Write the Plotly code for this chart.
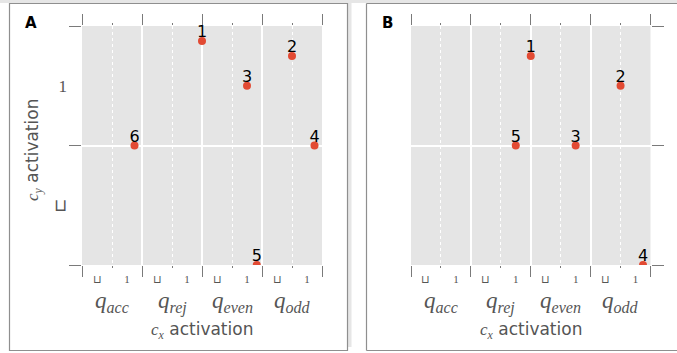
import plotly.graph_objects as go

W, H = 677, 353

# ---------------- data ----------------
categories = ["acc", "rej", "even", "odd"]          # q_acc, q_rej, q_even, q_odd
cx_tick_values = [-1, 1]
cx_tick_text = ["\u2294", "1"]
cy_tick_values = [-1, 1]
cy_tick_text = ["\u2294", "1"]

a_labels = ["1", "2", "3", "4", "5", "6"]
a_cat = [2, 3, 2, 3, 2, 0]
a_cx = [-2.0, 0.0, 1.0, 1.5, 1.65, 1.5]
a_cy = [1.75, 1.5, 1.0, 0.0, -2.0, 0.0]

b_labels = ["1", "2", "3", "4", "5"]
b_cat = [2, 3, 2, 3, 1]
b_cx = [-2.0, 0.0, 1.0, 1.5, 1.0]
b_cy = [1.5, 1.0, 0.0, -2.0, 0.0]

SPAN = 4.0  # width of one category block in cx units (cx in [-2, 2])
centers = [SPAN * i for i in range(len(categories))]
bounds = [SPAN * i - SPAN / 2 for i in range(len(categories) + 1)]
xr = [bounds[0], bounds[-1]]
yr = [-2, 2]


def px(x):
    return x / W


def py(y):
    return 1 - y / H


TICKC = "#7a7a7a"
LABC = "#555555"
SERIF = "Liberation Serif"
SANS = "DejaVu Sans"
RED = "#E24A33"

fig = go.Figure()


def add_points(cat, cx, cy, labels, xa, ya):
    xs = [SPAN * c + v for c, v in zip(cat, cx)]
    fig.add_trace(go.Scatter(
        x=xs, y=cy, mode="markers",
        marker=dict(color=RED, size=8),
        xaxis=xa, yaxis=ya, showlegend=False, hoverinfo="skip"))
    fig.add_trace(go.Scatter(
        x=xs, y=cy, text=labels, mode="text", textposition="top center",
        textfont=dict(family=SANS, size=16, color="black"), cliponaxis=False,
        xaxis=xa, yaxis=ya, showlegend=False, hoverinfo="skip"))


def empty(xa, ya):
    fig.add_trace(go.Scatter(x=[], y=[], xaxis=xa, yaxis=ya,
                             showlegend=False, hoverinfo="skip"))


add_points(a_cat, a_cx, a_cy, a_labels, "x", "y")
empty("x2", "y2")
empty("x3", "y2")
add_points(b_cat, b_cx, b_cy, b_labels, "x4", "y3")
empty("x5", "y4")
empty("x6", "y4")

ydom = [py(265), py(26)]
domA = [px(82), px(322)]
domB = [px(411), px(650.5)]

label_tv = [c + v for c in centers for v in cx_tick_values]
label_tt = [t for c in centers for t in cx_tick_text]

layout = dict(
    width=W, height=H, margin=dict(l=0, r=0, t=0, b=0),
    paper_bgcolor="white", plot_bgcolor="#E5E5E5",
    font=dict(family=SANS, color=LABC),
)


def main_x(dom, anchor):
    return dict(domain=dom, range=xr, anchor=anchor, tickmode="array",
                tickvals=label_tv, ticktext=label_tt, ticks="",
                tickfont=dict(family=SERIF, size=11, color=LABC),
                ticklabelstandoff=6,
                showgrid=False, zeroline=False, showline=False)


def bound_x(over, anchor):
    return dict(overlaying=over, range=xr, anchor=anchor, tickmode="array",
                tickvals=bounds, ticks="outside", ticklen=11, tickwidth=1.3,
                tickcolor=TICKC, mirror="ticks", showticklabels=False,
                showgrid=True, gridcolor="white", gridwidth=1.5,
                zeroline=False, showline=False)


def center_x(over, anchor):
    return dict(overlaying=over, range=xr, anchor=anchor, tickmode="array",
                tickvals=centers, ticks="outside", ticklen=2, tickwidth=1.3,
                tickcolor=TICKC, mirror="ticks", showticklabels=False,
                showgrid=True, gridcolor="white", gridwidth=1, griddash="dot",
                zeroline=False, showline=False)


layout["xaxis"] = main_x(domA, "y")
layout["xaxis2"] = bound_x("x", "y2")
layout["xaxis3"] = center_x("x", "y2")
layout["xaxis4"] = main_x(domB, "y3")
layout["xaxis5"] = bound_x("x4", "y4")
layout["xaxis6"] = center_x("x4", "y4")

layout["yaxis"] = dict(domain=ydom, range=yr, anchor="x", side="left",
                       tickmode="array", tickvals=cy_tick_values, ticktext=cy_tick_text,
                       ticks="", tickfont=dict(family=SERIF, size=17, color=LABC),
                       ticklabelstandoff=14,
                       showgrid=False, zeroline=False, showline=False)
layout["yaxis2"] = dict(overlaying="y", range=yr, anchor="x2", side="left",
                        tickmode="array", tickvals=[-2, 0, 2], ticks="outside",
                        ticklen=12, tickwidth=1.3, tickcolor=TICKC,
                        showticklabels=False, showgrid=True, gridcolor="white",
                        gridwidth=1.5, zeroline=False, showline=False)
layout["yaxis3"] = dict(domain=ydom, range=yr, anchor="x4", side="right",
                        showticklabels=False, ticks="", showgrid=False,
                        zeroline=False, showline=False)
layout["yaxis4"] = dict(overlaying="y3", range=yr, anchor="x5", side="right",
                        tickmode="array", tickvals=[-2, 0, 2], ticks="outside",
                        ticklen=12, tickwidth=1.3, tickcolor=TICKC,
                        showticklabels=False, showgrid=True, gridcolor="white",
                        gridwidth=1.5, zeroline=False, showline=False)

fig.update_layout(**layout)

# ---------------- frames and background strips ----------------
shapes = [
    dict(type="rect", xref="paper", yref="paper", x0=0, x1=1, y0=py(3), y1=1,
         fillcolor="#E6E6E6", line=dict(width=0), layer="below"),
    dict(type="rect", xref="paper", yref="paper", x0=px(347.5), x1=px(351.5),
         y0=py(347), y1=1, fillcolor="#E6E6E6", line=dict(width=0), layer="below"),
    dict(type="rect", xref="paper", yref="paper", x0=px(9.5), x1=px(347.5),
         y0=py(350.5), y1=py(3.5), line=dict(color="#8f8f8f", width=1.2), layer="below"),
    dict(type="line", xref="paper", yref="paper", x0=px(366.5), x1=px(366.5),
         y0=py(350.5), y1=py(3.5), line=dict(color="#8f8f8f", width=1.2), layer="below"),
    dict(type="line", xref="paper", yref="paper", x0=px(366.5), x1=1,
         y0=py(3.5), y1=py(3.5), line=dict(color="#8f8f8f", width=1.2), layer="below"),
    dict(type="line", xref="paper", yref="paper", x0=px(366.5), x1=1,
         y0=py(350.5), y1=py(350.5), line=dict(color="#8f8f8f", width=1.2), layer="below"),
]
fig.update_layout(shapes=shapes)

# ---------------- annotations ----------------
ann = []
for xa in ["x", "x4"]:
    for c, name in zip(centers, categories):
        ann.append(dict(x=c, xref=xa, y=py(302), yref="paper",
                        text="<i>q</i><sub><i>%s</i></sub>" % name, showarrow=False,
                        font=dict(family=SERIF, size=23, color=LABC),
                        xanchor="center", yanchor="middle"))
    ann.append(dict(x=sum(xr) / 2, xref=xa, y=py(330), yref="paper",
                    text='<span style="font-family:%s"><i>c</i><sub><i>x</i></sub></span> activation' % SERIF,
                    showarrow=False, font=dict(family=SANS, size=17, color=LABC),
                    xanchor="center", yanchor="middle"))
ann.append(dict(x=px(34), xref="paper", y=py(150), yref="paper", textangle=-90,
                text='<span style="font-family:%s"><i>c</i><sub><i>y</i></sub></span> activation' % SERIF,
                showarrow=False, font=dict(family=SANS, size=17, color=LABC),
                xanchor="center", yanchor="middle"))
ann.append(dict(x=px(31), xref="paper", y=py(23), yref="paper", text="<b>A</b>",
                showarrow=False, font=dict(family=SANS, size=15, color="black"),
                xanchor="center", yanchor="middle"))
ann.append(dict(x=px(387), xref="paper", y=py(23), yref="paper", text="<b>B</b>",
                showarrow=False, font=dict(family=SANS, size=15, color="black"),
                xanchor="center", yanchor="middle"))
fig.update_layout(annotations=ann)

fig.write_html("out.html", config={"displayModeBar": False},
               post_script="document.body.style.margin='0px';document.body.style.padding='0px';")
